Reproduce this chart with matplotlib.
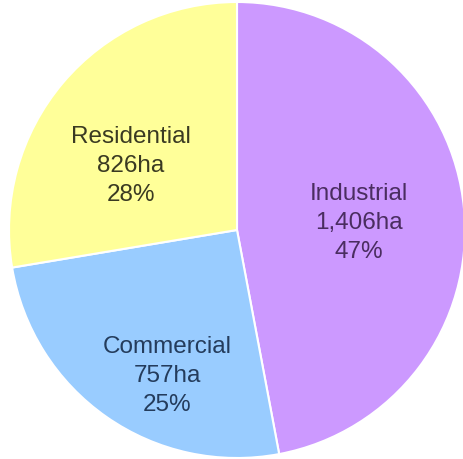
import matplotlib
matplotlib.use("Agg")
import matplotlib.pyplot as plt

categories = ["Industrial", "Commercial", "Residential"]
areas_ha = [1406, 757, 826]
percents = [47, 25, 28]
colors = ["#CC99FF", "#99CCFF", "#FFFF99"]
text_colors = ["#4A2D60", "#243C5C", "#3A3A22"]

W, H = 464, 459
fig = plt.figure(figsize=(W / 100, H / 100), dpi=100)
ax = fig.add_axes([0, 0, 1, 1])

cx, cy, R = 237, H - 230, 228
ax.pie(areas_ha, colors=colors, startangle=90, counterclock=False,
       center=(cx, cy), radius=R, frame=True,
       wedgeprops=dict(edgecolor="white", linewidth=1.5))
ax.set_xlim(0, W)
ax.set_ylim(0, H)
ax.set_aspect("equal")
ax.axis("off")

label_pos = [(359, 223), (167, 376), (131, 166)]
for name, a, p, col, (x, y) in zip(categories, areas_ha, percents, text_colors, label_pos):
    ax.text(x, H - y, f"{name}\n{a:,}ha\n{p}%", ha="center", va="center",
            fontsize=17.5, color=col, family="Liberation Sans", linespacing=1.4)

fig.savefig("out.png", dpi=100, facecolor="white")
